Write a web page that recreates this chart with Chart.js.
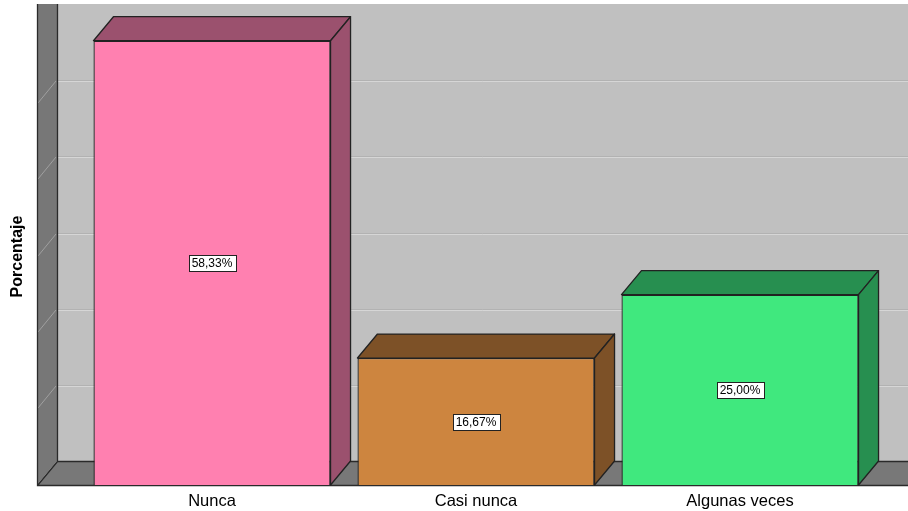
<!DOCTYPE html>
<html>
<head>
<meta charset="utf-8">
<script src="https://cdn.jsdelivr.net/npm/chart.js@4/dist/chart.umd.min.js"></script>
<style>
    body { margin: 0; background: #fff; }
    #wrap { width: 908px; height: 511px; position: relative; }
</style>
</head>
<body>
<div id="wrap"><canvas id="barChart"></canvas></div>
<script>
"use strict";
const categories = ['Nunca', 'Casi nunca', 'Algunas veces'];
const percentages = [58.33, 16.67, 25.00];
const frontColors = ['#ff80b0', '#cd853f', '#40e87e'];
const shadeColors = ['#9b516e', '#7d5127', '#278f50'];
const axisTitle = 'Porcentaje';

// depth offset of the 3d box (front -> back)
const depthX = 20;
const depthY = -24;

Chart.defaults.font.family = "'Liberation Sans', Arial, sans-serif";
Chart.defaults.color = '#000';

function formatPct(v) {
    return v.toFixed(2).replace('.', ',') + '%';
}

const boxPlugin = {
    id: 'box3d',
    beforeDraw(chart) {
        const ctx = chart.ctx;
        const area = chart.chartArea;
        const yScale = chart.scales.y;
        const w = chart.width;
        const wallX = area.left - 43;
        const top = area.top + depthY;
        const floorFront = area.bottom;
        const floorBack = area.bottom + depthY;
        const backX = wallX + depthX;

        ctx.save();
        ctx.fillStyle = '#fff';
        ctx.fillRect(0, 0, w, chart.height);

        // back wall
        ctx.fillStyle = '#c0c0c0';
        ctx.fillRect(backX, top, w - backX, floorBack - top);

        // left wall
        ctx.fillStyle = '#777777';
        ctx.beginPath();
        ctx.moveTo(wallX, top);
        ctx.lineTo(backX, top);
        ctx.lineTo(backX, floorBack);
        ctx.lineTo(wallX, floorFront);
        ctx.closePath();
        ctx.fill();

        // floor
        ctx.fillStyle = '#787878';
        ctx.beginPath();
        ctx.moveTo(wallX, floorFront);
        ctx.lineTo(backX, floorBack);
        ctx.lineTo(w, floorBack);
        ctx.lineTo(w, floorFront);
        ctx.closePath();
        ctx.fill();

        // grid lines on back wall and left wall
        yScale.ticks.forEach(t => {
            if (t.value <= yScale.min || t.value >= yScale.max) return;
            const yf = Math.round(yScale.getPixelForValue(t.value));
            const yb = yf + depthY;
            ctx.lineWidth = 1;
            ctx.strokeStyle = '#b2b2b2';
            ctx.beginPath();
            ctx.moveTo(backX, yb + 0.5);
            ctx.lineTo(w, yb + 0.5);
            ctx.stroke();
            ctx.strokeStyle = '#d6d6d6';
            ctx.beginPath();
            ctx.moveTo(backX, yb + 1.5);
            ctx.lineTo(w, yb + 1.5);
            ctx.stroke();
            ctx.strokeStyle = '#a0a0a0';
            ctx.beginPath();
            ctx.moveTo(wallX + 1, yf - 1);
            ctx.lineTo(backX - 1, yb + 1);
            ctx.stroke();
        });

        // edges
        ctx.strokeStyle = '#2a2a2a';
        ctx.lineWidth = 1.3;
        ctx.beginPath();
        ctx.moveTo(wallX + 0.5, top);
        ctx.lineTo(wallX + 0.5, floorFront + 0.5);
        ctx.lineTo(w, floorFront + 0.5);
        ctx.moveTo(backX + 0.5, top);
        ctx.lineTo(backX + 0.5, floorBack + 0.5);
        ctx.lineTo(w, floorBack + 0.5);
        ctx.moveTo(wallX + 0.5, floorFront + 0.5);
        ctx.lineTo(backX + 0.5, floorBack + 0.5);
        ctx.stroke();
        ctx.restore();
    },
    beforeDatasetsDraw(chart) {
        const ctx = chart.ctx;
        const meta = chart.getDatasetMeta(0);
        ctx.save();
        ctx.lineWidth = 1.3;
        ctx.strokeStyle = '#222';
        ctx.lineJoin = 'round';
        meta.data.forEach((bar, i) => {
            const p = bar.getProps(['x', 'y', 'base', 'width'], true);
            const l = p.x - p.width / 2;
            const r = p.x + p.width / 2;
            ctx.fillStyle = shadeColors[i];
            // top face
            ctx.beginPath();
            ctx.moveTo(l, p.y);
            ctx.lineTo(l + depthX, p.y + depthY);
            ctx.lineTo(r + depthX, p.y + depthY);
            ctx.lineTo(r, p.y);
            ctx.closePath();
            ctx.fill();
            ctx.stroke();
            // side face
            ctx.beginPath();
            ctx.moveTo(r, p.y);
            ctx.lineTo(r + depthX, p.y + depthY);
            ctx.lineTo(r + depthX, p.base + depthY);
            ctx.lineTo(r, p.base);
            ctx.closePath();
            ctx.fill();
            ctx.stroke();
        });
        ctx.restore();
    },
    afterDatasetsDraw(chart) {
        const ctx = chart.ctx;
        const meta = chart.getDatasetMeta(0);
        ctx.save();
        ctx.font = "12px 'Liberation Sans', Arial, sans-serif";
        ctx.textAlign = 'center';
        ctx.textBaseline = 'middle';
        meta.data.forEach((bar, i) => {
            const p = bar.getProps(['x', 'y', 'base'], true);
            const cy = (p.y + p.base) / 2;
            const txt = formatPct(percentages[i]);
            const tw = ctx.measureText(txt).width + 6;
            const bx = Math.round(p.x - tw / 2) + 0.5;
            const by = Math.round(cy - 8) + 0.5;
            ctx.fillStyle = '#fff';
            ctx.fillRect(bx, by, Math.round(tw), 16);
            ctx.strokeStyle = '#222';
            ctx.lineWidth = 1;
            ctx.strokeRect(bx, by, Math.round(tw), 16);
            ctx.fillStyle = '#000';
            ctx.fillText(txt, p.x, by + 8.5);
        });
        ctx.restore();
    }
};

new Chart(document.getElementById('barChart'), {
    type: 'bar',
    data: {
        labels: categories,
        datasets: [{
            label: axisTitle,
            data: percentages,
            backgroundColor: frontColors,
            borderColor: '#222',
            borderWidth: 1.3,
            barPercentage: 0.898,
            categoryPercentage: 1
        }]
    },
    options: {
        responsive: true,
        maintainAspectRatio: false,
        animation: false,
        layout: { padding: { left: 0, right: 36, top: 28, bottom: 0 } },
        plugins: {
            legend: { display: false },
            tooltip: { enabled: false }
        },
        scales: {
            x: {
                grid: { display: false, drawTicks: false, tickLength: 0 },
                border: { display: false },
                ticks: { font: { size: 16.5 }, padding: 7, color: '#000' },
                afterFit: function (s) { s.height = 26; }
            },
            y: {
                min: 0,
                max: 60,
                grid: { display: false, drawTicks: false },
                border: { display: false },
                ticks: { display: false, stepSize: 10 },
                title: {
                    display: true,
                    text: axisTitle,
                    color: '#000',
                    font: { size: 16, weight: 'bold' },
                    padding: { top: 8, bottom: 0 }
                },
                afterFit: function (s) { s.width = 80; }
            }
        }
    },
    plugins: [boxPlugin]
});
</script>
</body>
</html>
